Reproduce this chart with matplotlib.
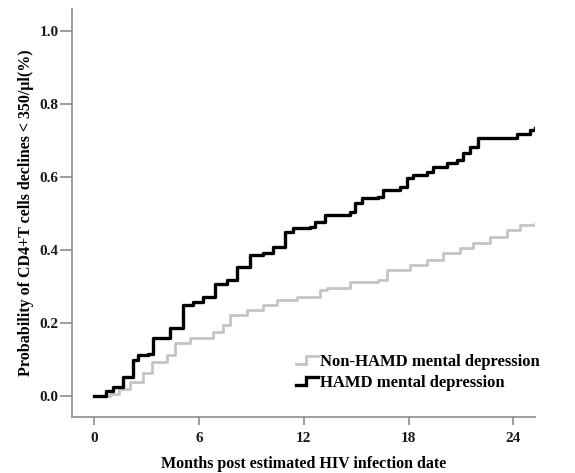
import matplotlib
matplotlib.use('Agg')
import matplotlib.pyplot as plt
from matplotlib.lines import Line2D
from matplotlib.legend_handler import HandlerLine2D

# Kaplan-Meier style cumulative curves (months, probability)
hamd_t = [0.0, 0.7, 1.09, 1.66, 2.23, 2.52, 3.09, 3.38, 4.34, 5.10, 5.67, 6.24,
          6.91, 7.58, 8.16, 8.92, 9.68, 10.25, 10.92, 11.4, 12.35, 12.64, 13.21,
          14.65, 14.93, 15.31, 16.27, 16.55, 17.51, 17.89, 18.27, 19.04, 19.42,
          20.18, 20.76, 21.13, 21.52, 22.0, 24.0, 24.19, 24.95, 25.24]
hamd_p = [0.0, 0.012, 0.024, 0.052, 0.097, 0.111, 0.115, 0.157, 0.184, 0.248,
          0.257, 0.271, 0.307, 0.316, 0.353, 0.385, 0.39, 0.408, 0.449, 0.458,
          0.462, 0.476, 0.495, 0.504, 0.527, 0.540, 0.545, 0.563, 0.572, 0.595,
          0.604, 0.613, 0.627, 0.636, 0.645, 0.664, 0.682, 0.705, 0.705, 0.718,
          0.727, 0.732]

non_t = [0.0, 0.9, 1.4, 2.04, 2.81, 3.29, 4.15, 4.62, 5.48, 6.82, 7.39, 7.77,
         8.73, 9.68, 10.45, 11.59, 12.93, 13.31, 14.65, 16.27, 16.75, 18.08,
         19.04, 19.99, 20.95, 21.71, 22.66, 23.62, 24.38, 25.24]
non_p = [0.0, 0.005, 0.018, 0.038, 0.061, 0.093, 0.111, 0.143, 0.157, 0.175,
         0.193, 0.221, 0.234, 0.248, 0.262, 0.271, 0.289, 0.294, 0.312, 0.316,
         0.344, 0.357, 0.371, 0.390, 0.403, 0.417, 0.435, 0.453, 0.467, 0.472]

x_ticks = [0, 6, 12, 18, 24]
y_ticks = [0.0, 0.2, 0.4, 0.6, 0.8, 1.0]
labels = ['Non-HAMD mental depression', 'HAMD mental depression']

serif = ['Liberation Serif', 'DejaVu Serif']
axis_grey = '#8c8c8c'


class StepHandler(HandlerLine2D):
    # little step symbol like the SPSS legend
    def create_artists(self, legend, orig_handle, xdescent, ydescent,
                       width, height, fontsize, trans):
        x0 = -xdescent
        y0 = -ydescent
        xs = [x0, x0 + width * 0.45, x0 + width * 0.45, x0 + width]
        ys = [y0 + height * 0.15, y0 + height * 0.15, y0 + height * 0.85, y0 + height * 0.85]
        line = Line2D(xs, ys, color=orig_handle.get_color(),
                      linewidth=orig_handle.get_linewidth(),
                      solid_joinstyle='miter')
        line.set_transform(trans)
        return [line]


fig = plt.figure(figsize=(5.75, 4.73), dpi=100)
ax = fig.add_axes([0.1247, 0.119, 0.8057, 0.861])

l1, = ax.plot(non_t, non_p, drawstyle='steps-post', color='#c4c4c4', lw=2.0)
l2, = ax.plot(hamd_t, hamd_p, drawstyle='steps-post', color='black', lw=2.4)

ax.set_xlim(-1.29, 25.24)
ax.set_ylim(-0.058, 1.058)
ax.set_xticks(x_ticks)
ax.set_yticks(y_ticks)
ax.set_xticklabels([str(v) for v in x_ticks])
ax.set_yticklabels(['%.1f' % v for v in y_ticks])

for s in ['top', 'right']:
    ax.spines[s].set_visible(False)
for s in ['left', 'bottom']:
    ax.spines[s].set_color(axis_grey)
    ax.spines[s].set_linewidth(1.2)

ax.tick_params(axis='y', length=9, width=1.2, color=axis_grey, pad=0.5)
ax.tick_params(axis='x', length=6, width=1.2, color=axis_grey, pad=5)
for lab in ax.get_xticklabels() + ax.get_yticklabels():
    lab.set_family(serif)
    lab.set_weight('bold')
    lab.set_fontsize(11)
    lab.set_color('#1a1a1a')

ax.set_xlabel('Months post estimated HIV infection date', family=serif,
              fontweight='bold', fontsize=11.5, labelpad=8)
ax.set_ylabel('Probability of CD4+T cells declines < 350/\u03bcl(%)', family=serif,
              fontweight='bold', fontsize=11.5, labelpad=4)

leg = fig.legend([l1, l2], labels, loc='upper left',
                 bbox_to_anchor=(0.515, 0.252), frameon=False,
                 handler_map={Line2D: StepHandler()},
                 handlelength=1.3, handletextpad=0.15, labelspacing=0.3,
                 borderaxespad=0, borderpad=0,
                 prop={'family': serif, 'weight': 'bold', 'size': 12})

fig.savefig('out.png', dpi=100)
